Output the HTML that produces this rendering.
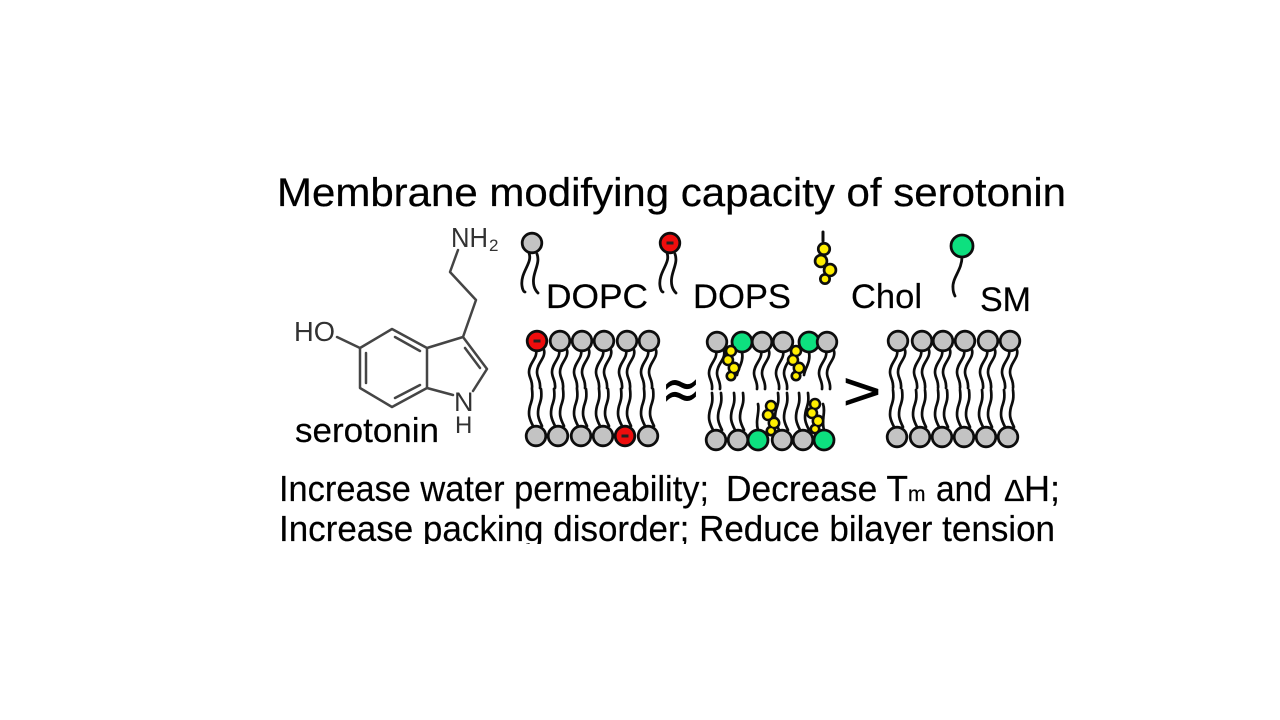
<!DOCTYPE html>
<html><head><meta charset="utf-8"><style>
html,body{margin:0;padding:0;background:#fff;width:1280px;height:720px;overflow:hidden}
svg{display:block}
text{font-family:"Liberation Sans",sans-serif;fill:#000}
</style></head><body>
<svg width="1280" height="720" viewBox="0 0 1280 720" xmlns="http://www.w3.org/2000/svg">
<defs>
<filter id="bl" x="0" y="0" width="100%" height="100%"><feGaussianBlur stdDeviation="0.35"/></filter>
<g id="tt" fill="none" stroke="#111" stroke-width="2.700" stroke-linecap="round">
<path d="M-1 9C1 17-8 22-8 31C-8 37-4 40-5 47"/><path d="M7 9C9 17 0 22 0 31C0 37 4 40 3 47"/>
</g>
<g id="tb" fill="none" stroke="#111" stroke-width="2.700" stroke-linecap="round">
<path d="M-3-10C-7-18-8-22-6-30C-4-36-3-39-4-47"/><path d="M6-10C2-18 1-22 3-30C5-36 6-39 5-47"/>
</g>
<circle id="g" r="9.800" fill="#c3c3c3" stroke="#111" stroke-width="2.800"/>
<circle id="s" r="10" fill="#0ee07f" stroke="#111" stroke-width="2.800"/>
<g id="r"><circle r="9.800" fill="#ee0a0a" stroke="#111" stroke-width="2.800"/><rect x="-3.500" y="-1.500" width="7" height="3" fill="#222"/></g>
<g id="c">
<g fill="#111" stroke="#111" stroke-width="4.500"><circle cx="1" cy="-12" r="4"/><circle cx="-2" cy="-3" r="4"/><circle cx="4" cy="5" r="4.200"/><circle cx="1" cy="13" r="3.300"/></g>
<g fill="#ffee00"><circle cx="1" cy="-12" r="3.700"/><circle cx="-2" cy="-3" r="3.700"/><circle cx="4" cy="5" r="3.900"/><circle cx="1" cy="13" r="2.900"/></g>
</g>
</defs>

<g filter="url(#bl)">
<text x="277" y="206" font-size="40" stroke="#000" stroke-width="0.250" textLength="789" lengthAdjust="spacingAndGlyphs">Membrane modifying capacity of serotonin</text>

<!-- Serotonin -->
<g fill="none" stroke="#444" stroke-width="2.500" stroke-linejoin="round" stroke-linecap="round">
<path d="M458 250L450 272L476 300L463 337L427 348L392 329L360 348V388L392 407L427 388V348"/>
<path d="M337 337L360 348"/>
<path d="M366 353V383M395 337L420 351M395 398L420 385"/>
<path d="M463 337L487 369L473 391M427 388L453 395M465 348L480 368"/>
</g>
<text x="451" y="247" font-size="28" style="fill:#333" textLength="37" lengthAdjust="spacingAndGlyphs">NH</text>
<text x="489" y="251" font-size="17" style="fill:#333">2</text>
<text x="294" y="341" font-size="28" style="fill:#333" textLength="41" lengthAdjust="spacingAndGlyphs">HO</text>
<text x="454" y="411" font-size="27" style="fill:#333">N</text>
<text x="455" y="433" font-size="24" style="fill:#333">H</text>
<text x="295" y="442" font-size="34" stroke="#000" stroke-width="0.200" textLength="144" lengthAdjust="spacingAndGlyphs">serotonin</text>

<!-- Legend -->
<g fill="none" stroke="#111" stroke-width="2.800" stroke-linecap="round">
<path d="M529 253C533 263 520 272 522 286C522.500 290 524 292 525 292"/>
<path d="M537 254C541 264 531 274 534 286C535 290 537 292 538 293"/>
<path d="M667 253C671 263 658 272 660 286C660.500 290 662 292 663 292"/>
<path d="M675 254C679 264 669 274 672 286C673 290 675 292 676 293"/>
<path d="M962 257C962 270 952 278 953 288C953 292 954 294 955 296"/>
<path d="M823 232V241" stroke-width="3"/>
</g>
<use href="#g" x="532" y="243"/>
<use href="#r" x="670" y="243"/>
<circle cx="962" cy="246" r="11" fill="#0ee07f" stroke="#111" stroke-width="2.800"/>
<g fill="#111" stroke="#111" stroke-width="5"><circle cx="824" cy="249" r="4.600"/><circle cx="821" cy="261" r="4.800"/><circle cx="830" cy="270" r="4.800"/><circle cx="825" cy="279" r="3.500"/></g>
<g fill="#ffee00"><circle cx="824" cy="249" r="4.400"/><circle cx="821" cy="261" r="4.600"/><circle cx="830" cy="270" r="4.600"/><circle cx="825" cy="279" r="3.300"/></g>
<text x="546" y="308" font-size="34" stroke="#000" stroke-width="0.200" textLength="102" lengthAdjust="spacingAndGlyphs">DOPC</text>
<text x="693" y="308" font-size="34" stroke="#000" stroke-width="0.200" textLength="98" lengthAdjust="spacingAndGlyphs">DOPS</text>
<text x="851" y="308" font-size="34" stroke="#000" stroke-width="0.200" textLength="71" lengthAdjust="spacingAndGlyphs">Chol</text>
<text x="980" y="311" font-size="34" stroke="#000" stroke-width="0.200" textLength="51" lengthAdjust="spacingAndGlyphs">SM</text>

<!-- Bilayer 1 -->
<use href="#tt" x="537" y="341"/><use href="#tt" x="560" y="341"/><use href="#tt" x="582" y="341"/><use href="#tt" x="604" y="341"/><use href="#tt" x="627" y="341"/><use href="#tt" x="649" y="341"/>
<use href="#tb" x="536" y="436"/><use href="#tb" x="558" y="436"/><use href="#tb" x="581" y="436"/><use href="#tb" x="603" y="436"/><use href="#tb" x="625" y="436"/><use href="#tb" x="648" y="436"/>
<use href="#r" x="537" y="341"/><use href="#g" x="560" y="341"/><use href="#g" x="582" y="341"/><use href="#g" x="604" y="341"/><use href="#g" x="627" y="341"/><use href="#g" x="649" y="341"/>
<use href="#g" x="536" y="436"/><use href="#g" x="558" y="436"/><use href="#g" x="581" y="436"/><use href="#g" x="603" y="436"/><use href="#r" x="625" y="436"/><use href="#g" x="648" y="436"/>

<text x="661" y="410" font-size="62" style="font-family:'DejaVu Sans',sans-serif" textLength="40" lengthAdjust="spacingAndGlyphs">≈</text>
<text x="843" y="409" font-size="52" stroke="#000" stroke-width="0.800" textLength="38" lengthAdjust="spacingAndGlyphs">&gt;</text>

<!-- Bilayer 2 -->
<use href="#tt" x="717" y="342"/><use href="#tt" x="762" y="342"/><use href="#tt" x="784" y="342"/><use href="#tt" x="827" y="342"/>
<use href="#tb" x="716" y="440"/><use href="#tb" x="738" y="440"/><use href="#tb" x="782" y="440"/><use href="#tb" x="803" y="440"/>
<g fill="none" stroke="#111" stroke-width="2.700" stroke-linecap="round">
<path d="M742 352C744 362 738 368 737 375"/><path d="M809 352C811 362 805 368 804 375"/>
<path d="M758 430C755 420 760 412 758 404"/><path d="M824 430C821 420 826 412 823 404"/>
</g>
<use href="#g" x="717" y="342"/><use href="#s" x="742" y="342"/><use href="#g" x="762" y="342"/><use href="#g" x="783" y="342"/><use href="#s" x="809" y="342"/><use href="#g" x="827" y="342"/>
<use href="#g" x="716" y="440"/><use href="#g" x="738" y="440"/><use href="#s" x="758" y="440"/><use href="#g" x="782" y="440"/><use href="#g" x="803" y="440"/><use href="#s" x="824" y="440"/>
<use href="#c" x="730" y="363"/><use href="#c" x="795" y="363"/><use href="#c" x="770" y="418"/><use href="#c" x="814" y="416"/>

<!-- Bilayer 3 -->
<use href="#tt" x="898" y="341"/><use href="#tt" x="922" y="341"/><use href="#tt" x="943" y="341"/><use href="#tt" x="965" y="341"/><use href="#tt" x="988" y="341"/><use href="#tt" x="1010" y="341"/>
<use href="#tb" x="897" y="437"/><use href="#tb" x="920" y="437"/><use href="#tb" x="942" y="437"/><use href="#tb" x="964" y="437"/><use href="#tb" x="986" y="437"/><use href="#tb" x="1008" y="437"/>
<use href="#g" x="898" y="341"/><use href="#g" x="922" y="341"/><use href="#g" x="943" y="341"/><use href="#g" x="965" y="341"/><use href="#g" x="988" y="341"/><use href="#g" x="1010" y="341"/>
<use href="#g" x="897" y="437"/><use href="#g" x="920" y="437"/><use href="#g" x="942" y="437"/><use href="#g" x="964" y="437"/><use href="#g" x="986" y="437"/><use href="#g" x="1008" y="437"/>

<!-- Bottom text -->
<g stroke="#000" stroke-width="0.200">
<text x="279" y="501" font-size="36" textLength="430" lengthAdjust="spacingAndGlyphs">Increase water permeability;</text>
<text x="726" y="501" font-size="36" textLength="182" lengthAdjust="spacingAndGlyphs">Decrease T</text>
<text x="908" y="501" font-size="21">m</text>
<text x="936" y="501" font-size="36" textLength="56" lengthAdjust="spacingAndGlyphs">and</text>
<text x="1004" y="501" font-size="31">Δ</text>
<text x="1024" y="501" font-size="36" textLength="36" lengthAdjust="spacingAndGlyphs">H;</text>
<text x="279" y="541" font-size="36" textLength="776" lengthAdjust="spacingAndGlyphs">Increase packing disorder; Reduce bilayer tension</text>
</g>
</g>
<rect x="270" y="544" width="800" height="14" fill="#fff"/>
</svg>
</body></html>
